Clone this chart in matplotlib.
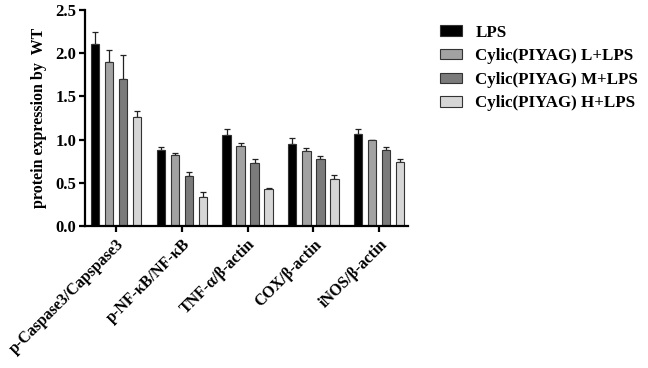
import numpy as np
import matplotlib.pyplot as plt

plt.rcParams['font.family'] = ['Liberation Serif', 'DejaVu Serif']
plt.rcParams['font.weight'] = 'bold'

# data
categories = ["p-Caspase3/Capspase3", "p-NF-κB/NF-κB", "TNF-α/β-actin",
              "COX/β-actin", "iNOS/β-actin"]
groups = ["LPS", "Cylic(PIYAG) L+LPS", "Cylic(PIYAG) M+LPS", "Cylic(PIYAG) H+LPS"]
lps = [2.10, 0.88, 1.05, 0.95, 1.06]
lps_err = [0.14, 0.03, 0.07, 0.07, 0.06]
low = [1.90, 0.82, 0.92, 0.87, 0.99]
low_err = [0.14, 0.03, 0.04, 0.03, 0.01]
mid = [1.70, 0.58, 0.73, 0.77, 0.88]
mid_err = [0.28, 0.04, 0.04, 0.04, 0.03]
high = [1.26, 0.34, 0.43, 0.54, 0.74]
high_err = [0.07, 0.05, 0.01, 0.05, 0.04]

colors = ['#000000', '#a2a2a2', '#7b7b7b', '#d6d6d6']

fig = plt.figure(figsize=(6.48, 3.68), dpi=100)
ax = fig.add_axes([0.131, 0.386, 0.499, 0.587])

x = np.arange(len(categories))
pitch = 0.213
width = 0.125
series = [(lps, lps_err), (low, low_err), (mid, mid_err), (high, high_err)]
for i, (vals, errs) in enumerate(series):
    pos = x + (i - 1.5) * pitch
    ax.bar(pos, vals, width, color=colors[i], edgecolor='#333333', linewidth=0.8,
           label=groups[i], zorder=2)
    ax.errorbar(pos, vals, yerr=[np.zeros(len(errs)), errs], fmt='none',
                ecolor='#222222', elinewidth=0.9, capsize=2.5, capthick=0.9, zorder=1)

ax.set_xlim(-0.47, 4.44)
ax.set_ylim(0, 2.5)
ax.set_yticks([0.0, 0.5, 1.0, 1.5, 2.0, 2.5])
ax.set_yticklabels(['0.0', '0.5', '1.0', '1.5', '2.0', '2.5'], fontsize=12, fontweight='bold')
ax.set_xticks(x)
ax.set_xticklabels(categories, rotation=45, ha='right', rotation_mode='anchor',
                   fontsize=11.5, fontweight='bold')
ax.set_ylabel('protein expression by  WT', fontsize=11.5, fontweight='bold', labelpad=6)

for side in ['top', 'right']:
    ax.spines[side].set_visible(False)
ax.spines['left'].set_linewidth(1.6)
ax.spines['bottom'].set_linewidth(1.6)
ax.tick_params(axis='both', width=1.6, length=4)
ax.tick_params(axis='y', pad=2)

ax.legend(loc='upper left', bbox_to_anchor=(1.05, 1.003), frameon=False,
          handlelength=1.3, handleheight=0.55, labelspacing=0.45,
          handletextpad=0.8, prop={'weight': 'bold', 'size': 12.2})

plt.savefig('out.png', dpi=100)
